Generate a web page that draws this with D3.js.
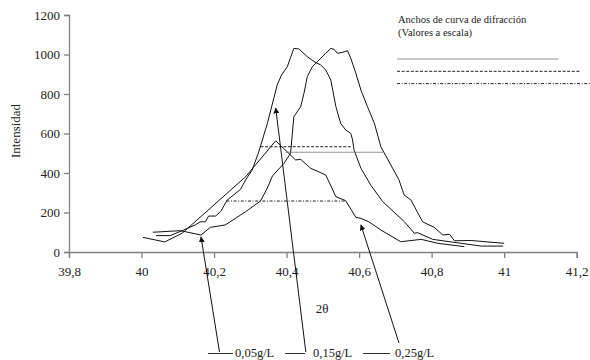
<!DOCTYPE html>
<html>
<head>
<meta charset="utf-8">
<script src="https://cdn.jsdelivr.net/npm/d3@7"></script>
<style>
  body { margin: 0; background: #fff; }
  svg, svg text { font-family: "Liberation Serif", "Times New Roman", Times, "DejaVu Serif", serif; }
</style>
</head>
<body>
<div id="viz"></div>
<script>
// 2θ values and intensities, one pair of arrays per curve
const theta005 = [40.031, 40.107, 40.164, 40.190, 40.231, 40.287, 40.328, 40.347, 40.361, 40.393, 40.411, 40.420, 40.439, 40.448, 40.457, 40.471, 40.485, 40.508, 40.522, 40.531, 40.540, 40.554, 40.568, 40.577, 40.591, 40.605, 40.623, 40.642, 40.660, 40.668, 40.710, 40.724, 40.743, 40.775, 40.807, 40.831, 40.849, 40.863, 40.909, 41.0];
const int005   = [100, 108, 86, 125, 137, 204, 258, 324, 385, 449, 500, 685, 736, 804, 888, 938, 964, 1006, 1031, 1026, 1006, 1011, 1019, 981, 905, 820, 736, 652, 533, 506, 365, 289, 263, 153, 125, 86, 90, 57, 58, 44];

const theta015 = [40.040, 40.079, 40.116, 40.148, 40.162, 40.176, 40.185, 40.204, 40.218, 40.236, 40.273, 40.287, 40.305, 40.323, 40.347, 40.374, 40.386, 40.402, 40.420, 40.434, 40.457, 40.476, 40.494, 40.508, 40.522, 40.536, 40.549, 40.563, 40.577, 40.582, 40.586, 40.605, 40.632, 40.665, 40.725, 40.752, 40.761, 40.803, 40.854, 40.937, 40.997];
const int015   = [83, 83, 111, 137, 153, 153, 182, 182, 204, 263, 317, 365, 415, 506, 651, 845, 896, 938, 1031, 1028, 989, 964, 947, 922, 871, 736, 652, 618, 601, 567, 516, 424, 339, 255, 153, 95, 98, 64, 51, 30, 30];

const theta025 = [40.004, 40.064, 40.112, 40.287, 40.370, 40.425, 40.439, 40.466, 40.508, 40.536, 40.563, 40.591, 40.605, 40.627, 40.660, 40.715, 40.771, 40.817, 40.890];
const int025   = [74, 51, 95, 381, 563, 466, 469, 424, 390, 280, 260, 176, 170, 153, 111, 52, 64, 44, 27];

// half-height widths drawn in the plot: [from, to, intensity]
const widthNames = ["0,05g/L", "0,15g/L", "0,25g/L"];
const widthFrom  = [40.397, 40.328, 40.234];
const widthTo    = [40.669, 40.577, 40.563];
const widthLevel = [505, 533, 258];
// the same widths shown to scale in the corner (in degrees)
const widthScaled = [0.445, 0.503, 0.534];

const seriesNames = ["0,05g/L", "0,15g/L", "0,25g/L"];
// arrow tips and tails, in axis units
const arrowTip  = [[40.164, 77], [40.370, 729], [40.605, 137]];
const arrowTail = [[40.215, -506], [40.453, -506], [40.710, -461]];

const xTicks = [39.8, 40, 40.2, 40.4, 40.6, 40.8, 41, 41.2];
const xTickLabels = ["39,8", "40", "40,2", "40,4", "40,6", "40,8", "41", "41,2"];
const yTicks = [0, 200, 400, 600, 800, 1000, 1200];

const width = 590;
const height = 360;
const serif = '"Liberation Serif", "Times New Roman", Times, serif';

const svg = d3.select('#viz').append('svg')
    .attr('width', width)
    .attr('height', height);

const x = d3.scaleLinear().domain([39.8, 41.2]).range([69, 576.7]);
const y = d3.scaleLinear().domain([0, 1200]).range([252, 15]);

const axisColor = '#808080';

// axes
const yAxis = svg.append('g')
    .attr('transform', 'translate(69,0)')
    .call(d3.axisLeft(y).tickValues(yTicks).tickSize(5).tickPadding(4)
        .tickFormat(d3.format('d')));
const xAxis = svg.append('g')
    .attr('transform', 'translate(0,252)')
    .call(d3.axisBottom(x).tickValues(xTicks).tickSize(6).tickPadding(9)
        .tickFormat((d, i) => xTickLabels[i]));

[xAxis, yAxis].forEach(g => {
    g.attr('font-family', serif).attr('font-size', 13);
    g.select('.domain').attr('stroke', axisColor).attr('stroke-width', 1.3);
    g.selectAll('.tick line').attr('stroke', axisColor).attr('stroke-width', 1.3);
    g.selectAll('.tick text').attr('fill', '#222');
});

svg.append('text')
    .attr('transform', 'translate(20,131) rotate(-90)')
    .attr('text-anchor', 'middle')
    .attr('fill', '#222')
    .attr('font-family', serif)
    .attr('font-size', 13)
    .text('Intensidad');

svg.append('text')
    .attr('x', 322)
    .attr('y', 313)
    .attr('text-anchor', 'middle')
    .attr('fill', '#222')
    .attr('font-family', serif)
    .attr('font-size', 13)
    .text('2θ');

// curves
const line = d3.line().x(d => x(d[0])).y(d => y(d[1]));
const curves = [
    d3.zip(theta005, int005),
    d3.zip(theta015, int015),
    d3.zip(theta025, int025)
];
svg.selectAll('path.curve')
    .data(curves)
    .enter()
    .append('path')
    .attr('class', 'curve')
    .attr('d', line)
    .attr('fill', 'none')
    .attr('stroke', '#111')
    .attr('stroke-width', 1);

// width lines: solid, dashed, dash-dot
const dashes = [null, '3,1.6', '3,1.6,1,1.6'];
const widthStroke = ['#777', '#222', '#222'];
svg.selectAll('line.width')
    .data(widthNames)
    .enter()
    .append('line')
    .attr('class', 'width')
    .attr('x1', (d, i) => x(widthFrom[i]))
    .attr('x2', (d, i) => x(widthTo[i]))
    .attr('y1', (d, i) => y(widthLevel[i]))
    .attr('y2', (d, i) => y(widthLevel[i]))
    .attr('stroke', (d, i) => widthStroke[i])
    .attr('stroke-width', (d, i) => i === 0 ? 0.8 : 1)
    .attr('stroke-dasharray', (d, i) => dashes[i]);

// corner box with the scaled widths
const note = svg.append('g')
    .attr('transform', 'translate(398,0)')
    .attr('font-family', serif)
    .attr('font-size', 10.5)
    .attr('fill', '#222');
note.append('text')
    .attr('y', 23)
    .text('Anchos de curva de difracción');
note.append('text')
    .attr('y', 35.5)
    .text('(Valores a escala)');
note.selectAll('line')
    .data(widthScaled)
    .enter()
    .append('line')
    .attr('x1', -1)
    .attr('x2', d => -1 + x(39.8 + d) - x(39.8))
    .attr('y1', (d, i) => 59 + i * 12.3)
    .attr('y2', (d, i) => 59 + i * 12.3)
    .attr('stroke', (d, i) => widthStroke[i])
    .attr('stroke-width', (d, i) => i === 0 ? 0.8 : 1)
    .attr('stroke-dasharray', (d, i) => dashes[i]);

// arrows pointing at each curve
svg.append('defs').append('marker')
    .attr('id', 'head')
    .attr('viewBox', '0 0 10 10')
    .attr('refX', 9)
    .attr('refY', 5)
    .attr('markerWidth', 6)
    .attr('markerHeight', 6)
    .attr('markerUnits', 'userSpaceOnUse')
    .attr('orient', 'auto')
    .append('path')
    .attr('d', 'M0,0 L10,5 L0,10 Z')
    .attr('fill', '#111');

svg.selectAll('line.arrow')
    .data(seriesNames)
    .enter()
    .append('line')
    .attr('class', 'arrow')
    .attr('x1', (d, i) => x(arrowTail[i][0]))
    .attr('y1', (d, i) => y(arrowTail[i][1]))
    .attr('x2', (d, i) => x(arrowTip[i][0]))
    .attr('y2', (d, i) => y(arrowTip[i][1]))
    .attr('stroke', '#111')
    .attr('stroke-width', 1)
    .attr('marker-end', 'url(#head)');

// labels at the bottom
const keyLineFrom = [208, 285, 363];
const keyLineTo = [233, 305, 390];
const keyText = [235, 313, 395];
const key = svg.selectAll('g.key')
    .data(seriesNames)
    .enter()
    .append('g')
    .attr('class', 'key');
key.append('line')
    .attr('x1', (d, i) => keyLineFrom[i])
    .attr('x2', (d, i) => keyLineTo[i])
    .attr('y1', 353.5)
    .attr('y2', 353.5)
    .attr('stroke', '#333')
    .attr('stroke-width', 1);
key.append('text')
    .attr('x', (d, i) => keyText[i])
    .attr('y', 357)
    .attr('fill', '#222')
    .attr('font-family', serif)
    .attr('font-size', 12.5)
    .text(d => d);
</script>
</body>
</html>
